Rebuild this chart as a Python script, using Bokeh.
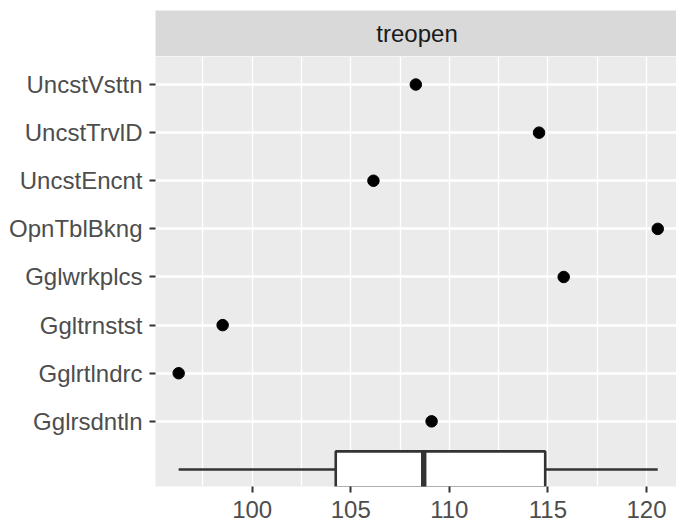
import numpy as np
from bokeh.plotting import figure
from bokeh.models import Range1d, FixedTicker, Label
from bokeh.layouts import column
from bokeh.embed import file_html
from bokeh.resources import INLINE

# ---- data ----
categories = ["Gglrsdntln", "Gglrtlndrc", "Ggltrnstst", "Gglwrkplcs",
              "OpnTblBkng", "UncstEncnt", "UncstTrvlD", "UncstVsttn"]
values = [109.1, 96.27, 98.5, 115.8, 120.57, 106.15, 114.55, 108.3]
x_ticks = [100, 105, 110, 115, 120]
x_grid_breaks = [97.5, 100, 102.5, 105, 107.5, 110, 112.5, 115, 117.5, 120]
strip_label = "treopen"

FONT = "Liberation Sans"
FS = "24px"

y_pos = list(range(1, len(categories) + 1))
q1, med, q3 = np.quantile(values, [0.25, 0.5, 0.75])
vmin, vmax = min(values), max(values)

x_range = Range1d(95.095, 121.522)

# ---- strip ----
s = figure(width=676, height=56, x_range=Range1d(0, 1), y_range=Range1d(0, 1),
           x_axis_location=None, y_axis_location=None,
           output_backend="svg", toolbar_location=None,
           min_border_left=155, min_border_right=0, min_border_top=10, min_border_bottom=0)
s.grid.visible = False
s.background_fill_color = "#D9D9D9"
s.border_fill_color = "white"
s.outline_line_color = None
s.add_layout(Label(x=0.502, y=0.5, text=strip_label, text_align="center",
                   text_baseline="middle", text_font=FONT, text_font_size=FS,
                   text_color="#1A1A1A"))

# ---- main panel ----
p = figure(width=676, height=475, x_range=x_range, y_range=Range1d(-0.354, 8.5825),
           output_backend="svg", toolbar_location=None,
           min_border_left=155, min_border_right=0, min_border_top=0, min_border_bottom=45)
p.background_fill_color = "#EBEBEB"
p.border_fill_color = "white"
p.outline_line_color = None

p.xgrid.ticker = FixedTicker(ticks=x_grid_breaks)
p.xgrid.grid_line_color = "white"
p.xgrid.grid_line_width = 1.35
p.ygrid.ticker = FixedTicker(ticks=y_pos)
p.ygrid.grid_line_color = "white"
p.ygrid.grid_line_width = 2.7

# boxplot at y = 0
p.segment(x0=[vmin, q3], y0=[0, 0], x1=[q1, vmax], y1=[0, 0],
          line_color="#333333", line_width=2.6)
p.quad(left=[q1], right=[q3], bottom=[-0.375], top=[0.375],
       fill_color="white", line_color="#333333", line_width=2.6)
p.segment(x0=[med], y0=[-0.375], x1=[med], y1=[0.375],
          line_color="#333333", line_width=5.4)

# points
p.scatter(x=values, y=y_pos, size=11.5, fill_color="black", line_color="black")

# axes
p.xaxis.ticker = FixedTicker(ticks=x_ticks)
p.yaxis.ticker = FixedTicker(ticks=y_pos)
p.yaxis.major_label_overrides = {y: c for y, c in zip(y_pos, categories)}
for ax in (p.xaxis[0], p.yaxis[0]):
    ax.axis_line_color = None
    ax.major_tick_line_color = "#333333"
    ax.major_tick_line_width = 2
    ax.major_tick_out = 6
    ax.major_tick_in = 0
    ax.minor_tick_line_color = None
    ax.major_label_text_font = FONT
    ax.major_label_text_font_size = FS
    ax.major_label_text_color = "#4D4D4D"
p.xaxis.major_label_standoff = 8
p.yaxis.major_label_standoff = 7

layout = column(s, p, spacing=0)
open("out.html", "w").write(file_html(layout, INLINE))
